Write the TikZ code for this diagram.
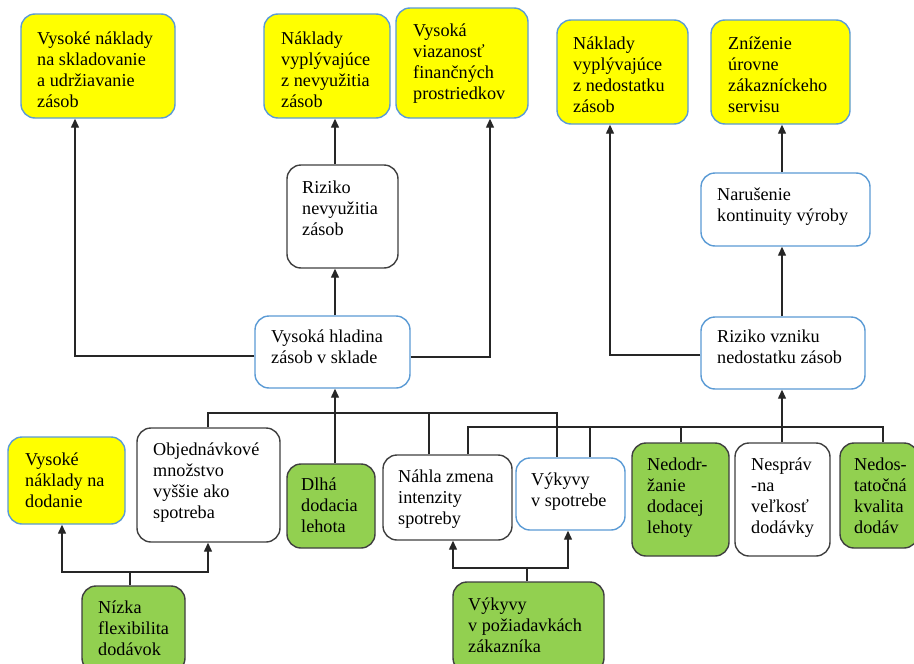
\documentclass[tikz,border=0pt]{standalone}
\usepackage{fontspec}
\setmainfont{Liberation Serif}
\usetikzlibrary{arrows.meta,fit}
\definecolor{byel}{HTML}{FFFF00}
\definecolor{bgrn}{HTML}{92D050}
\definecolor{bblu}{HTML}{5B9BD5}
\definecolor{bdrk}{HTML}{3F3F3F}
\definecolor{lnk}{HTML}{262626}
\newcommand\strutx{\rule{0pt}{14pt}}
\newcommand\bx[6]{\node[#2, fit={(#3,#4) (#5,#6)}] (#1) {};}
\newcommand\tx[4]{\node[txt] (#1) at (#2,{#3-14}) {\strutx#4};}
\begin{document}
\begin{tikzpicture}[x=1pt,y=-1pt,
  base/.style={rounded corners=14pt, line width=1.4pt, inner sep=0pt},
  yb/.style={base, fill=byel, draw=bblu},
  wb/.style={base, fill=white, draw=bblu},
  wd/.style={base, fill=white, draw=bdrk},
  gd/.style={base, fill=bgrn, draw=bdrk},
  txt/.style={anchor=north west, inner sep=0pt, align=left, text=black, font=\fontsize{18.2}{21.2}\selectfont},
  ln/.style={draw=lnk, line width=1.3pt},
  arr/.style={ln, -{Triangle[width=8pt,length=9pt]}}
]
\useasboundingbox (0,0) rectangle (914,664);
\clip (0,0) rectangle (914,664);
\fill[white] (0,0) rectangle (914,664);

% top row
\bx{b1}{yb}{21}{14}{175}{118}
\tx{t1}{37}{44}{Vysoké náklady\\na skladovanie\\a udržiavanie\\zásob}
\bx{b2}{yb}{264}{14}{390}{118}
\tx{t2}{281}{44}{Náklady\\vyplývajúce\\z nevyužitia\\zásob}
\bx{b3}{yb}{396}{8}{528}{118}
\tx{t3}{413}{36}{Vysoká\\viazanosť\\finančných\\prostriedkov}
\bx{b4}{yb}{557}{20}{688}{124}
\tx{t4}{573}{49}{Náklady\\vyplývajúce\\z nedostatku\\zásob}
\bx{b5}{yb}{711}{20}{850}{124}
\tx{t5}{728}{49}{Zníženie\\úrovne\\zákazníckeho\\servisu}

% middle
\bx{rn}{wd}{287}{165}{398}{268}
\tx{trn}{302}{193}{Riziko\\nevyužitia\\zásob}
\bx{vh}{wb}{255}{316}{410}{388}
\tx{tvh}{271}{342}{Vysoká hladina\\zásob v sklade}
\bx{nk}{wb}{701}{173}{870}{246}
\tx{tnk}{717}{200}{Narušenie\\kontinuity výroby}
\bx{rv}{wb}{701}{317}{865}{389}
\tx{trv}{717}{342}{Riziko vzniku\\nedostatku zásob}

% bottom
\bx{vd}{yb}{8}{437}{125}{524}
\tx{tvd}{25}{465}{Vysoké\\náklady na\\dodanie}
\bx{ob}{wd}{137}{428}{280}{542}
\tx{tob}{153}{455}{Objednávkové\\množstvo\\vyššie ako\\spotreba}
\bx{dl}{gd}{287}{464}{375}{548}
\tx{tdl}{301}{490}{Dlhá\\dodacia\\lehota}
\bx{nz}{wd}{383}{455}{512}{540}
\tx{tnz}{398}{482}{Náhla zmena\\intenzity\\spotreby}
\bx{vs}{wb}{516}{458}{625}{530}
\tx{tvs}{531}{485}{Výkyvy\\v spotrebe}
\bx{nd}{gd}{632}{443}{729}{556}
\tx{tnd}{647}{470}{Nedodr-\\žanie\\dodacej\\lehoty}
\bx{np}{wd}{735}{443}{830}{556}
\tx{tnp}{751}{470}{Nespráv\\-na\\veľkosť\\dodávky}
\bx{ns}{gd}{840}{443}{918}{548}
\tx{tns}{854}{470}{Nedos-\\tatočná\\kvalita\\dodáv}
\bx{nf}{gd}{82}{586}{185}{672}
\tx{tnf}{98}{613}{Nízka\\flexibilita\\dodávok}
\bx{vp}{gd}{453}{582}{604}{672}
\tx{tvp}{468}{610}{Výkyvy\\v požiadavkách\\zákazníka}

% helper coordinates
\coordinate (x75) at (75,0);
\coordinate (x335) at (335,0);
\coordinate (x490) at (490,0);
\coordinate (x610) at (610,0);
\coordinate (x782) at (782,0);
\coordinate (x62) at (62,0);
\coordinate (x453) at (453,0);
\coordinate (x568) at (568,0);
\coordinate (h355) at (0,355);
\coordinate (h356) at (0,356);
\coordinate (h357) at (0,357);
\coordinate (ja1) at (208,413);
\coordinate (ja2) at (557,413);
\coordinate (ja3) at (429,413);
\coordinate (jb1) at (468,427);
\coordinate (jb2) at (883,427);
\coordinate (jb3) at (590,427);
\coordinate (jb4) at (681,427);
\coordinate (jb5) at (782,427);
\coordinate (jc) at (130,572);
\coordinate (jd) at (527,568);

% upper connectors
\draw[arr] (vh.west |- h356) -| (b1.south -| x75);
\draw[arr] (vh.north -| x335) -- (rn.south -| x335);
\draw[arr] (rn.north -| x335) -- (b2.south -| x335);
\draw[arr] (vh.east |- h357) -| (b3.south -| x490);
\draw[arr] (rv.west |- h355) -| (b4.south -| x610);
\draw[arr] (rv.north -| x782) -- (nk.south -| x782);
\draw[arr] (nk.north -| x782) -- (b5.south -| x782);

% lower connectors
\draw[ln] (ob.north -| ja1) -- (ja1) -- (ja2) -- (vs.north -| ja2);
\draw[arr] (dl.north -| x335) -- (vh.south -| x335);
\draw[ln] (nz.north -| ja3) -- (ja3);
\draw[ln] (nz.north -| jb1) -- (jb1) -- (jb2) -- (ns.north -| jb2);
\draw[ln] (vs.north -| jb3) -- (jb3);
\draw[ln] (nd.north -| jb4) -- (jb4);
\draw[arr] (np.north -| jb5) -- (rv.south -| jb5);
\draw[arr] (nf.north -| jc) -- (jc) -| (vd.south -| x62);
\draw[arr] (jc) -| (ob.south -| ja1);
\draw[arr] (vp.north -| jd) -- (jd) -| (nz.south -| x453);
\draw[arr] (jd) -| (vs.south -| x568);
\end{tikzpicture}
\end{document}
